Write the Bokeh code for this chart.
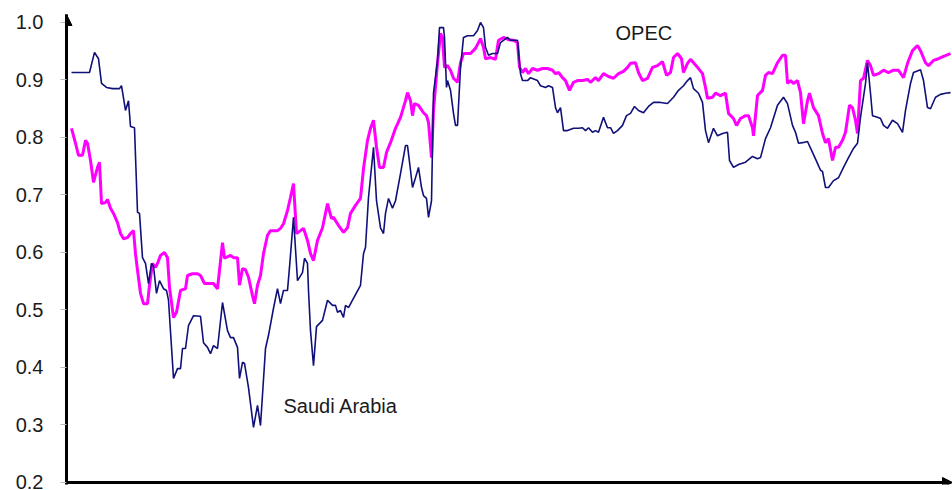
from bokeh.plotting import figure
from bokeh.models import Range1d, FixedTicker, PrintfTickFormatter, Arrow, NormalHead, Label
from bokeh.embed import file_html
from bokeh.resources import INLINE

# time index (arbitrary periods) and correlation values
saudi_t = [0, 18, 23, 27, 30, 35, 41, 48, 50, 54, 57, 59, 63, 66, 68, 71, 74, 77, 80, 82, 85, 88, 92, 95, 97,
           102, 106, 109, 111, 114, 117, 122, 129, 132, 136, 139, 142, 146, 151, 156, 159, 162, 166, 168, 171,
           173, 177, 182, 186, 189, 194, 197, 202, 206, 209, 212, 216, 218, 222, 226, 231, 233, 236, 237, 239,
           242, 245, 251, 256, 261, 264, 266, 269, 272, 274, 277, 281, 289, 292, 294, 297, 301, 302, 305, 309,
           312, 314, 317, 321, 324, 329, 334, 336, 339, 341, 344, 347, 350, 352, 355, 357, 360, 362, 366, 368,
           372, 373, 375, 376, 379, 382, 384, 386, 389, 392, 396, 402, 406, 409, 412, 414, 417, 421, 426, 429,
           436, 439, 446, 449, 451, 456, 459, 466, 469, 474, 477, 481, 484, 486, 489, 492, 496, 502, 507, 511,
           514, 517, 521, 524, 527, 532, 536, 539, 542, 546, 551, 555, 559, 563, 567, 572, 577, 582, 589, 596,
           602, 607, 612, 616, 619, 622, 627, 631, 634, 637, 642, 646, 651, 656, 658, 662, 667, 674, 681, 686,
           689, 694, 699, 706, 712, 716, 721, 724, 727, 731, 736, 741, 746, 749, 751, 754, 757, 762, 767, 772,
           777, 782, 786, 789, 794, 796, 799, 801, 806, 809, 812, 816, 821, 826, 831, 834, 839, 842, 849, 852,
           856, 859, 864, 869, 874, 879]
saudi_v = [0.913, 0.913, 0.948, 0.937, 0.894, 0.887, 0.885, 0.885, 0.890, 0.847, 0.864, 0.819, 0.817, 0.670,
           0.668, 0.591, 0.581, 0.546, 0.581, 0.576, 0.529, 0.551, 0.537, 0.534, 0.517, 0.381, 0.398, 0.398,
           0.433, 0.433, 0.473, 0.490, 0.489, 0.443, 0.435, 0.424, 0.438, 0.433, 0.513, 0.464, 0.452, 0.452,
           0.435, 0.381, 0.409, 0.407, 0.365, 0.296, 0.334, 0.299, 0.433, 0.456, 0.503, 0.537, 0.511, 0.534,
           0.534, 0.574, 0.661, 0.551, 0.565, 0.590, 0.581, 0.534, 0.464, 0.403, 0.471, 0.482, 0.517, 0.508,
           0.508, 0.496, 0.499, 0.487, 0.508, 0.504, 0.517, 0.543, 0.598, 0.609, 0.696, 0.765, 0.783, 0.690,
           0.643, 0.633, 0.668, 0.694, 0.677, 0.690, 0.737, 0.786, 0.786, 0.743, 0.713, 0.730, 0.748, 0.713,
           0.699, 0.694, 0.661, 0.690, 0.877, 0.934, 0.991, 0.991, 0.974, 0.887, 0.899, 0.882, 0.842, 0.821,
           0.821, 0.922, 0.974, 0.977, 0.977, 0.986, 1.000, 0.991, 0.957, 0.943, 0.946, 0.946, 0.965, 0.974,
           0.969, 0.969, 0.911, 0.899, 0.899, 0.904, 0.899, 0.890, 0.887, 0.890, 0.887, 0.852, 0.843, 0.852,
           0.812, 0.812, 0.816, 0.816, 0.817, 0.812, 0.817, 0.809, 0.812, 0.809, 0.835, 0.817, 0.817, 0.807,
           0.812, 0.821, 0.838, 0.842, 0.854, 0.847, 0.843, 0.854, 0.861, 0.861, 0.859, 0.870, 0.882, 0.890,
           0.899, 0.904, 0.885, 0.877, 0.861, 0.812, 0.791, 0.816, 0.803, 0.807, 0.809, 0.760, 0.748, 0.753,
           0.757, 0.767, 0.763, 0.765, 0.798, 0.817, 0.856, 0.870, 0.859, 0.821, 0.809, 0.790, 0.791, 0.793,
           0.774, 0.755, 0.743, 0.741, 0.713, 0.713, 0.725, 0.730, 0.748, 0.765, 0.781, 0.790, 0.835, 0.894,
           0.930, 0.877, 0.838, 0.835, 0.833, 0.821, 0.816, 0.830, 0.824, 0.809, 0.847, 0.894, 0.913, 0.918,
           0.899, 0.852, 0.850, 0.870, 0.875, 0.877, 0.878]

opec_t = [0, 4, 7, 11, 14, 16, 19, 22, 26, 28, 30, 34, 36, 39, 42, 46, 49, 52, 56, 59, 62, 64, 66, 69, 72, 76,
          78, 81, 84, 86, 89, 93, 96, 98, 102, 105, 109, 114, 116, 121, 126, 129, 133, 139, 142, 146, 151, 153,
          159, 162, 166, 168, 171, 174, 177, 181, 183, 186, 189, 192, 196, 199, 202, 206, 209, 212, 216, 219,
          222, 225, 229, 232, 236, 239, 242, 246, 251, 256, 260, 262, 267, 272, 276, 279, 284, 289, 292, 296,
          299, 302, 305, 308, 312, 315, 319, 324, 329, 334, 336, 339, 341, 343, 347, 352, 355, 357, 360, 362,
          366, 369, 371, 373, 376, 379, 382, 386, 389, 392, 399, 404, 409, 412, 414, 419, 424, 427, 432, 437,
          442, 446, 448, 451, 454, 457, 461, 466, 471, 476, 481, 484, 487, 491, 494, 498, 502, 506, 511, 516,
          519, 524, 527, 532, 537, 542, 547, 552, 556, 559, 564, 567, 571, 576, 581, 586, 591, 595, 599, 602,
          606, 610, 612, 616, 619, 622, 626, 631, 634, 636, 641, 644, 649, 654, 657, 662, 665, 669, 674, 677,
          681, 682, 686, 691, 694, 697, 701, 706, 711, 714, 716, 719, 722, 726, 729, 732, 736, 738, 742, 747,
          751, 754, 757, 761, 764, 767, 771, 774, 778, 781, 784, 786, 789, 792, 796, 799, 802, 807, 812, 817,
          822, 827, 832, 836, 841, 846, 849, 854, 857, 862, 867, 872, 879]
opec_v = [0.816, 0.790, 0.769, 0.769, 0.795, 0.790, 0.760, 0.722, 0.748, 0.757, 0.685, 0.687, 0.692, 0.677,
          0.668, 0.652, 0.633, 0.624, 0.626, 0.633, 0.638, 0.598, 0.569, 0.529, 0.511, 0.511, 0.543, 0.581,
          0.574, 0.581, 0.595, 0.600, 0.591, 0.539, 0.487, 0.496, 0.534, 0.537, 0.560, 0.563, 0.563, 0.560,
          0.546, 0.546, 0.546, 0.537, 0.617, 0.590, 0.595, 0.591, 0.591, 0.543, 0.572, 0.570, 0.557, 0.525,
          0.511, 0.543, 0.560, 0.598, 0.630, 0.638, 0.638, 0.638, 0.642, 0.650, 0.673, 0.696, 0.720, 0.633,
          0.638, 0.642, 0.621, 0.598, 0.586, 0.621, 0.643, 0.685, 0.659, 0.661, 0.647, 0.635, 0.643, 0.668,
          0.682, 0.694, 0.746, 0.795, 0.816, 0.830, 0.783, 0.748, 0.748, 0.774, 0.791, 0.816, 0.835, 0.864,
          0.878, 0.864, 0.838, 0.859, 0.856, 0.843, 0.838, 0.826, 0.765, 0.847, 0.929, 0.981, 0.974, 0.922,
          0.925, 0.917, 0.903, 0.896, 0.930, 0.946, 0.946, 0.955, 0.972, 0.957, 0.937, 0.939, 0.936, 0.969,
          0.974, 0.970, 0.969, 0.965, 0.922, 0.913, 0.920, 0.911, 0.920, 0.917, 0.920, 0.920, 0.917, 0.911,
          0.913, 0.904, 0.899, 0.882, 0.896, 0.899, 0.899, 0.901, 0.896, 0.904, 0.899, 0.911, 0.906, 0.903,
          0.911, 0.915, 0.922, 0.929, 0.930, 0.913, 0.899, 0.903, 0.922, 0.925, 0.932, 0.908, 0.913, 0.939,
          0.946, 0.937, 0.913, 0.929, 0.936, 0.930, 0.922, 0.911, 0.887, 0.868, 0.870, 0.877, 0.873, 0.877,
          0.842, 0.833, 0.821, 0.833, 0.838, 0.838, 0.817, 0.803, 0.873, 0.882, 0.908, 0.913, 0.911, 0.930,
          0.943, 0.943, 0.894, 0.899, 0.894, 0.899, 0.878, 0.824, 0.864, 0.877, 0.852, 0.838, 0.807, 0.791,
          0.798, 0.760, 0.783, 0.783, 0.795, 0.809, 0.856, 0.852, 0.830, 0.807, 0.899, 0.903, 0.934, 0.925,
          0.908, 0.911, 0.917, 0.913, 0.917, 0.917, 0.904, 0.929, 0.951, 0.960, 0.951, 0.930, 0.925, 0.934,
          0.937, 0.941, 0.946]

y_ticks = [0.2, 0.3, 0.4, 0.5, 0.6, 0.7, 0.8, 0.9, 1.0]
series_labels = ["OPEC", "Saudi Arabia"]

X0, X1 = -5, 881
Y0, Y1 = 0.1965, 1.0139

p = figure(width=952, height=490, output_backend="svg", toolbar_location=None,
           x_range=Range1d(X0, X1), y_range=Range1d(Y0, Y1),
           min_border_left=66, min_border_right=0, min_border_top=14, min_border_bottom=6)
p.outline_line_color = None
p.grid.visible = False
p.xaxis.visible = False
p.background_fill_color = "white"

ax = p.yaxis[0]
ax.ticker = FixedTicker(ticks=y_ticks)
ax.formatter = PrintfTickFormatter(format="%.1f")
ax.axis_line_width = 3
ax.axis_line_color = "black"
ax.major_tick_out = 6
ax.major_tick_in = 0
ax.major_tick_line_color = "#bbbbbb"
ax.minor_tick_line_color = None
ax.major_label_standoff = 17
ax.major_label_text_font = "Liberation Sans"
ax.major_label_text_font_size = "20px"
ax.major_label_text_color = "#1a1a1a"

p.line(opec_t, opec_v, line_color="#FF00FF", line_width=3)
p.line(saudi_t, saudi_v, line_color="#10107a", line_width=1.6)

p.add_layout(Arrow(end=NormalHead(size=11, fill_color="black", line_color="black"),
                   x_start=X0, y_start=0.95, x_end=X0, y_end=Y1, line_width=3, line_color="black"))
p.add_layout(Arrow(end=NormalHead(size=10, fill_color="black", line_color="black"),
                   x_start=X0, y_start=0.2, x_end=X1, y_end=0.2, line_width=3, line_color="black"))

p.add_layout(Label(x=544, y=0.981, text=series_labels[0], text_font="Liberation Sans",
                   text_font_size="20px", text_color="#1a1a1a", text_baseline="alphabetic"))
p.add_layout(Label(x=212, y=0.333, text=series_labels[1], text_font="Liberation Sans",
                   text_font_size="20px", text_color="#1a1a1a", text_baseline="alphabetic"))

open("out.html", "w").write(file_html(p, INLINE))
